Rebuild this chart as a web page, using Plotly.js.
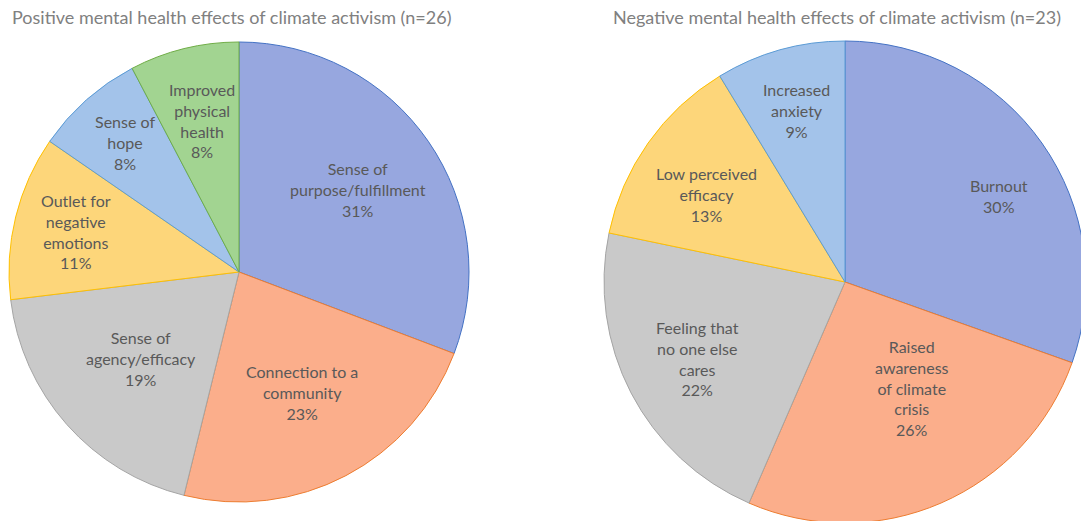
<!DOCTYPE html>
<html><head><meta charset="utf-8">
<script src="https://cdn.plot.ly/plotly-3.0.1.min.js"></script>
<style>html,body{margin:0;padding:0;overflow:hidden;background:#fff;width:1081px;height:521px}</style>
</head><body><div id="chart"></div>
<script>
// Positive effects (n=26)
var posLabels = ["Sense of<br>purpose/fulfillment","Connection to a<br>community","Sense of<br>agency/efficacy","Outlet for<br>negative<br>emotions","Sense of<br>hope","Improved<br>physical<br>health"];
var posCounts = [8, 6, 5, 3, 2, 2];
var posPctText = ["31%","23%","19%","11%","8%","8%"];
// Negative effects (n=23)
var negLabels = ["Burnout","Raised<br>awareness<br>of climate<br>crisis","Feeling that<br>no one else<br>cares","Low perceived<br>efficacy","Increased<br>anxiety"];
var negCounts = [7, 6, 5, 3, 2];
var negPctText = ["30%","26%","22%","13%","9%"];

// styling
var posFill = ["#97a7df","#fbae8b","#c9c9c9","#fdd67a","#a3c3ea","#a2d491"];
var posLine = ["#4472c4","#ed7d31","#a5a5a5","#ffc000","#5b9bd5","#70ad47"];
var negFill = ["#97a7df","#fbae8b","#c9c9c9","#fdd67a","#a3c3ea"];
var negLine = ["#4472c4","#ed7d31","#a5a5a5","#ffc000","#5b9bd5"];
// label placement: distance from centre as a fraction of the radius, and a small
// angular nudge (degrees) away from each slice's bisector
var posLabelR = [0.63, 0.59, 0.57, 0.73, 0.75, 0.68];
var posLabelDA = [0, 0, 0, 0, 0, 0];
var negLabelR = [0.73, 0.52, 0.69, 0.68, 0.74];
var negLabelDA = [6, -9, 0, -3, 0];

var W = 1100, H = 540;
var font = {family: "Lato, 'Open Sans', sans-serif", size: 16, color: "#595959"};

function pie(labels, counts, fill, line, cx, cy, r) {
  return {
    type: "pie", labels: labels, values: counts,
    textinfo: "none",
    sort: false, direction: "clockwise", rotation: 0,
    marker: {colors: fill, line: {color: line, width: 1}},
    hoverinfo: "label+percent", showlegend: false,
    domain: {x: [(cx - r) / W, (cx + r) / W], y: [(H - cy - r) / H, (H - cy + r) / H]}
  };
}

function labelAnns(labels, counts, pct, fracs, nudges, cx, cy, r) {
  var total = counts.reduce(function (a, b) { return a + b; }, 0);
  var cum = 0, out = [];
  counts.forEach(function (c, i) {
    var a = (cum + c / 2) / total * 2 * Math.PI + nudges[i] * Math.PI / 180;
    cum += c;
    var px = cx + fracs[i] * r * Math.sin(a);
    var py = cy - fracs[i] * r * Math.cos(a);
    out.push({text: labels[i] + "<br>" + pct[i], xref: "paper", yref: "paper",
      x: px / W, y: (H - py) / H, xanchor: "center", yanchor: "middle",
      showarrow: false, align: "center", font: font});
  });
  return out;
}

var P = {cx: 239, cy: 272, r: 230};
var N = {cx: 845, cy: 282, r: 241};

var data = [
  pie(posLabels, posCounts, posFill, posLine, P.cx, P.cy, P.r),
  pie(negLabels, negCounts, negFill, negLine, N.cx, N.cy, N.r)
];

var titleFont = {family: font.family, size: 18, color: "#808080"};
var annotations = [
  {text: "Positive mental health effects of climate activism (n=26)", xref: "paper", yref: "paper",
   x: 10 / W, y: (H - 17) / H, xanchor: "left", yanchor: "middle", showarrow: false, font: titleFont},
  {text: "Negative mental health effects of climate activism (n=23)", xref: "paper", yref: "paper",
   x: 611 / W, y: (H - 17) / H, xanchor: "left", yanchor: "middle", showarrow: false, font: titleFont}
].concat(labelAnns(posLabels, posCounts, posPctText, posLabelR, posLabelDA, P.cx, P.cy, P.r))
 .concat(labelAnns(negLabels, negCounts, negPctText, negLabelR, negLabelDA, N.cx, N.cy, N.r));

var layout = {
  width: W, height: H,
  margin: {l: 0, r: 0, t: 0, b: 0},
  paper_bgcolor: "#fff",
  font: font,
  annotations: annotations
};

Plotly.newPlot("chart", data, layout, {displayModeBar: false, staticPlot: true});
</script></body></html>
